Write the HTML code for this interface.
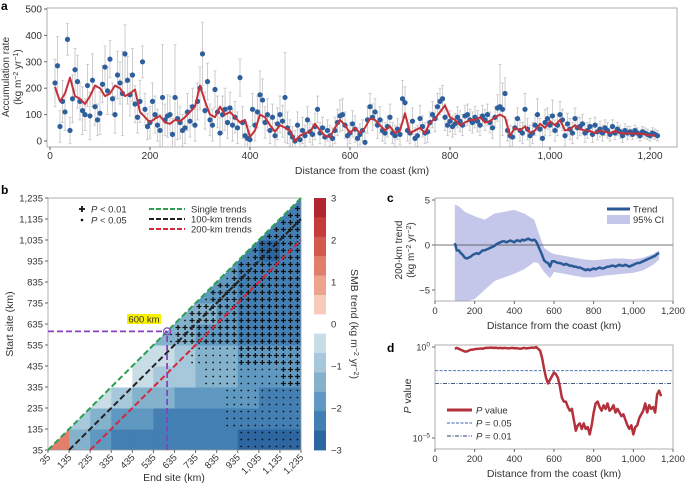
<!DOCTYPE html>
<html><head><meta charset="utf-8"><style>
html,body{margin:0;padding:0;background:#fff;}
svg{display:block;font-family:"Liberation Sans",sans-serif;}
text{fill:#333;}
</style></head><body>
<svg id="fig" width="685" height="487" viewBox="0 0 685 487" xmlns="http://www.w3.org/2000/svg">
<defs>
<clipPath id="clipA"><rect x="47" y="8" width="630" height="139"/></clipPath>
<clipPath id="clipB"><polygon points="48,450 301,450 301,198"/></clipPath>
<clipPath id="clipC"><rect x="435" y="198" width="238" height="103"/></clipPath>
<clipPath id="clipD"><rect x="435" y="345" width="238" height="104"/></clipPath>
</defs>
<g id="gA"></g>
<g id="gB"></g>
<g id="gC"></g>
<g id="gD"></g>
<text x="1" y="10" font-size="12" font-weight="bold" style="fill:#000">a</text>
<text x="1" y="194" font-size="12" font-weight="bold" style="fill:#000">b</text>
<text x="387" y="202" font-size="12" font-weight="bold" style="fill:#000">c</text>
<text x="387" y="352" font-size="12" font-weight="bold" style="fill:#000">d</text>
<text transform="translate(9,77) rotate(-90)" font-size="10" text-anchor="middle">Accumulation rate</text>
<text transform="translate(21,77) rotate(-90)" font-size="10" text-anchor="middle">(kg m<tspan dy="-3" font-size="7">−2</tspan><tspan dy="3"> yr</tspan><tspan dy="-3" font-size="7">−1</tspan><tspan dy="3">)</tspan></text>
<text x="362" y="174" font-size="10.5" text-anchor="middle">Distance from the coast (km)</text>
<text x="174" y="481" font-size="10.5" text-anchor="middle">End site (km)</text>
<text transform="translate(13,324) rotate(-90)" font-size="10.5" text-anchor="middle">Start site (km)</text>
<text transform="translate(351,324) rotate(90)" font-size="10.5" text-anchor="middle">SMB trend (kg m<tspan dy="-3" font-size="7">−2</tspan><tspan dy="3"> yr</tspan><tspan dy="-3" font-size="7">−2</tspan><tspan dy="3">)</tspan></text>
<text transform="translate(402,250) rotate(-90)" font-size="10" text-anchor="middle">200-km trend</text>
<text transform="translate(414,250) rotate(-90)" font-size="10" text-anchor="middle">(kg m<tspan dy="-3" font-size="7">−2</tspan><tspan dy="3"> yr</tspan><tspan dy="-3" font-size="7">−2</tspan><tspan dy="3">)</tspan></text>
<text x="554" y="329" font-size="10.5" text-anchor="middle">Distance from the coast (km)</text>
<text transform="translate(411,396) rotate(-90)" font-size="10.5" text-anchor="middle"><tspan font-style="italic">P</tspan> value</text>
<text x="554" y="477" font-size="10.5" text-anchor="middle">Distance from the coast (km)</text>
</svg>
<script>
// ---------- Panel a data ----------
const accStart = 10, accStep = 5;
const accValues = [220,285,55,150,110,385,40,160,270,225,
150,115,100,210,95,230,130,80,105,215,
280,190,310,160,100,250,220,180,330,230,
175,250,140,90,150,300,120,55,70,150,
100,60,40,165,80,95,100,25,165,85,
70,40,50,110,75,130,60,150,200,330,
115,225,80,60,195,110,30,100,120,70,
125,60,90,50,240,70,20,10,5,120,
60,110,175,155,70,100,40,90,20,65,
100,75,165,50,30,15,0,60,5,40,
20,80,35,25,55,120,30,50,15,40,
20,10,40,70,95,100,60,20,30,65,
45,10,25,40,-5,80,130,90,110,60,
80,40,30,55,90,30,20,45,25,160,
145,40,30,75,10,20,85,55,30,35,
70,100,85,130,150,160,90,60,75,55,
65,90,75,60,95,100,80,70,90,75,
60,95,80,100,70,50,90,125,130,120,
180,40,20,15,50,85,40,30,120,45,
20,30,60,100,45,10,70,85,60,95,
40,60,100,80,20,65,45,30,85,50,
55,65,30,40,55,25,60,35,45,30,
50,40,25,55,30,45,35,20,40,30,
35,25,40,30,20,35,30,25,20,30,25,20];
const accErrors = [90,110,60,80,70,60,50,90,80,100,
70,90,60,80,90,100,70,60,80,70,
80,90,70,60,70,90,80,160,110,90,
80,100,70,60,80,60,60,50,60,70,
70,60,60,200,60,80,70,60,200,80,
60,60,60,70,60,70,60,70,80,120,
70,70,60,60,70,60,60,70,80,60,
60,60,60,60,70,60,50,50,50,60,
60,60,90,80,60,60,50,50,50,60,
70,60,170,60,50,40,40,50,40,50,
40,50,40,40,50,50,40,40,40,40,
40,40,50,50,60,60,50,40,40,50,
50,40,40,40,40,50,50,50,50,50,
50,40,40,40,50,40,40,40,40,70,
60,40,40,50,40,40,50,40,40,40,
40,50,50,50,50,50,50,40,40,40,
40,40,40,40,40,40,40,40,40,40,
40,40,40,40,40,40,40,50,160,100,
60,40,40,40,40,40,40,40,60,40,
40,40,40,60,40,40,50,40,40,60,
40,40,50,40,40,40,40,40,40,40,
35,35,35,30,30,30,30,30,30,30,
30,30,25,25,25,25,25,25,25,25,
20,20,20,20,20,20,20,20,20,20,20,20];
const smoothStart = 10, smoothStep = 10;
const smoothValues = [205,150,180,240,170,160,140,170,210,200,170,180,210,200,170,180,195,110,90,70,85,95,70,65,80,75,90,110,130,210,150,100,90,130,100,110,90,70,80,15,40,100,90,60,35,60,50,40,0,20,30,35,65,40,20,15,50,80,60,30,50,30,50,85,80,60,40,55,30,40,105,30,40,50,30,70,85,110,135,90,80,60,70,80,80,90,70,75,90,100,90,20,50,40,55,30,40,65,50,75,60,80,40,45,60,45,40,38,30,40,35,30,38,30,28,30,28,28,25,22,20];
const aXTicks = [0,200,400,600,800,1000,1200];
const aXTickLabels = ["0","200","400","600","800","1,000","1,200"];
const aYTicks = [0,100,200,300,400,500];

// ---------- Panel b data ----------
const bTicks = [35,135,235,335,435,535,635,735,835,935,1035,1135,1235];
const bTickLabels = ["35","135","235","335","435","535","635","735","835","935","1,035","1,135","1,235"];
const trendMatrix = [
[1.2,-1.5,-2.0,-2.2,-2.3,-2.5,-2.5,-2.4,-2.5,-2.6,-2.6,-2.6],
[null,-0.8,-1.5,-1.8,-2.0,-2.1,-2.2,-2.2,-2.3,-2.3,-2.4,-2.4],
[null,null,-0.3,-0.8,-1.2,-1.6,-1.7,-1.8,-1.9,-2.0,-2.1,-2.2],
[null,null,null,-0.2,-0.5,-0.8,-1.0,-1.2,-1.5,-1.7,-1.9,-2.0],
[null,null,null,null,-0.3,-0.6,-0.9,-1.2,-1.5,-1.7,-1.9,-2.0],
[null,null,null,null,null,-1.3,-1.5,-1.9,-2.0,-2.1,-2.2,-2.2],
[null,null,null,null,null,null,-1.5,-1.6,-2.0,-2.1,-2.2,-2.3],
[null,null,null,null,null,null,null,-1.8,-1.9,-2.2,-2.3,-2.4],
[null,null,null,null,null,null,null,null,-2.0,-2.3,-2.5,-2.5],
[null,null,null,null,null,null,null,null,null,-2.2,-2.6,-2.5],
[null,null,null,null,null,null,null,null,null,null,-2.4,-2.5],
[null,null,null,null,null,null,null,null,null,null,null,-2.3]];
const plusFromEnd = [null,null,null,1150,930,640,700,790,900,990,1080,1180];
const dotFromEnd = [950,880,860,760,700,600,680,760,860,960,1050,1150];
const cbarTicks = [3,2,1,0,-1,-2,-3];
const cbarColors = ["#b2272f","#c43c3c","#d45a50","#e27f6c","#eea38f","#f6cbbd","#ffffff","#c9dde6","#a6c8da","#84b2cd","#5f98c1","#437fb2","#2e66a1"];

// ---------- Panel c data ----------
const trendStart = 100, trendStep = 10;
const trendValues = [0.2,-0.6,-0.6,-0.9,-1.1,-1.4,-1.5,-1.4,-1.3,-1.1,-1.0,-0.9,-1.0,-0.8,-0.6,-0.6,-0.5,-0.4,-0.3,-0.2,-0.1,0.1,0.2,0.3,0.4,0.4,0.3,0.4,0.5,0.4,0.3,0.5,0.5,0.4,0.6,0.5,0.6,0.7,0.6,0.5,0.6,0.4,-0.1,-0.6,-1.1,-1.7,-1.9,-2.0,-2.4,-1.8,-1.8,-1.9,-2.0,-2.0,-2.1,-2.2,-2.1,-2.2,-2.3,-2.3,-2.4,-2.4,-2.5,-2.5,-2.6,-2.7,-2.8,-2.7,-2.8,-2.7,-2.6,-2.7,-2.6,-2.5,-2.6,-2.6,-2.5,-2.4,-2.4,-2.3,-2.3,-2.4,-2.3,-2.2,-2.3,-2.3,-2.2,-2.3,-2.4,-2.3,-2.2,-2.1,-2.0,-2.0,-1.9,-1.8,-1.7,-1.6,-1.5,-1.4,-1.3,-1.2,-1.0,-0.9];
const ciDist = [100,120,150,200,250,300,350,400,450,500,520,550,580,600,650,700,750,800,850,900,950,1000,1050,1100,1130];
const ciUpper = [4.5,4.3,3.7,3.2,2.8,3.5,3.7,3.9,3.5,2.8,1.5,-0.3,-0.8,-1.0,-1.2,-1.4,-1.6,-1.7,-1.6,-1.5,-1.5,-1.6,-1.4,-1.0,-0.6];
const ciLower = [-6.3,-6.3,-6.3,-6.0,-5.0,-4.0,-3.6,-3.2,-2.7,-1.9,-2.0,-3.0,-3.7,-3.0,-3.2,-3.4,-3.6,-3.6,-3.4,-3.3,-3.2,-3.1,-2.8,-2.2,-1.6];
const cYTicks = [5,0,-5];
const cdXTicks = [0,200,400,600,800,1000,1200];
const cdXTickLabels = ["0","200","400","600","800","1,000","1,200"];

// ---------- Panel d data ----------
const pStart = 100, pStep = 10;
const pLog10 = [-0.1,-0.05,-0.1,-0.15,-0.2,-0.25,-0.25,-0.2,-0.15,-0.15,-0.12,-0.1,-0.1,-0.08,-0.1,-0.06,-0.05,-0.05,-0.03,-0.05,-0.04,-0.05,-0.06,-0.05,-0.07,-0.05,-0.06,-0.08,-0.06,-0.05,-0.07,-0.06,-0.08,-0.1,-0.07,-0.05,-0.08,-0.06,-0.05,-0.03,-0.05,0,-0.1,-0.2,-0.6,-1.2,-1.7,-2.0,-1.8,-1.6,-1.4,-1.5,-1.7,-2.2,-2.8,-3.0,-3.0,-3.3,-3.5,-3.4,-4.0,-4.6,-4.3,-4.2,-4.5,-4.2,-4.5,-4.4,-4.8,-4.3,-3.6,-3.1,-3.0,-3.3,-3.5,-3.2,-3.4,-3.1,-3.5,-3.4,-3.2,-3.6,-3.4,-3.6,-3.8,-3.7,-4.0,-4.3,-4.5,-4.3,-4.8,-4.4,-4.3,-3.9,-3.7,-3.5,-3.1,-3.6,-3.2,-3.4,-3.3,-3.6,-2.6,-2.4,-2.7];
const pThresholds = [0.05,0.01];

const NS = "http://www.w3.org/2000/svg";
function mk(parent, tag, attrs, txt){
  const el = document.createElementNS(NS, tag);
  for (const k in attrs) el.setAttribute(k, attrs[k]);
  if (txt !== undefined) el.textContent = txt;
  parent.appendChild(el);
  return el;
}
const gA = document.getElementById('gA'), gB = document.getElementById('gB'),
      gC = document.getElementById('gC'), gD = document.getElementById('gD');

// ===== Panel a =====
const ax = d => 50 + d * 0.5;
const ay = v => 141 - v * 0.264;
let fr = mk(gA,'rect',{x:47,y:8,width:630,height:139,fill:'none',stroke:'#999','stroke-width':0.8});


aYTicks.forEach(t=>{
  const tk = mk(gA,'line',{x1:44,x2:47,y1:ay(t),y2:ay(t),stroke:'#666'});
  
  
  const lb = mk(gA,'text',{x:42,y:ay(t)+3.5,'font-size':10,'text-anchor':'end'},String(t));
  
  
});
aXTicks.forEach((t,i)=>{
  const tk = mk(gA,'line',{x1:ax(t),x2:ax(t),y1:147,y2:150,stroke:'#666'});
  
  
  const lb = mk(gA,'text',{x:ax(t),y:159,'font-size':10,'text-anchor':'middle'},aXTickLabels[i]);
  
  
});
const aPlot = mk(gA,'g',{'clip-path':'url(#clipA)'});


accValues.forEach((v,i)=>{
  const d = accStart + i*accStep, e = accErrors[i];
  const eb = mk(aPlot,'path',{d:`M${ax(d)},${ay(v-e)}V${ay(v+e)}M${ax(d)-1.5},${ay(v+e)}h3M${ax(d)-1.5},${ay(v-e)}h3`,stroke:'#c9c9c9','stroke-width':0.9,fill:'none'});
  
  
});
accValues.forEach((v,i)=>{
  const d = accStart + i*accStep;
  const c = mk(aPlot,'circle',{cx:ax(d),cy:ay(v),r:2.6,fill:'#2d5f9e'});
  
  
});
const sm = mk(aPlot,'polyline',{points:smoothValues.map((v,i)=>`${ax(smoothStart+i*smoothStep)},${ay(v)}`).join(' '),fill:'none',stroke:'#c3323b','stroke-width':2,'stroke-linejoin':'round'});



// ===== Panel b =====
const bx = e => 48 + (e-35)*253/1200;
const by = s => 450 - (s-35)*252/1200;
function colorOf(v){
  const w = 6/13;
  let idx = Math.floor((3 - v)/w);
  if (idx < 0) idx = 0; if (idx > 12) idx = 12;
  return cbarColors[idx];
}
const hm = mk(gB,'g',{'clip-path':'url(#clipB)'});


trendMatrix.forEach((row,i)=>{
  row.forEach((v,j)=>{
    if (v === null) return;
    const s0 = 35+100*i, e0 = 35+100*j;
    const c = mk(hm,'rect',{x:bx(e0),y:by(s0+100),width:bx(e0+100)-bx(e0)+0.5,height:by(s0)-by(s0+100)+0.5,fill:colorOf(v)});
    
    
  });
});
const mg = mk(gB,'g',{});


for (let s = 35 + 100/6; s < 1235; s += 100/3){
  const r = Math.min(11, Math.floor((s-35)/100));
  for (let e = 35 + 100/6; e < 1235; e += 100/3){
    if (e < s + 30) continue;
    if (plusFromEnd[r] !== null && e >= plusFromEnd[r]){
      const p = mk(mg,'path',{d:`M${bx(e)-2.5},${by(s)}h5M${bx(e)},${by(s)-2.5}v5`,stroke:'#111','stroke-width':1.3});
      
      
    } else if (e >= dotFromEnd[r]){
      const p = mk(mg,'circle',{cx:bx(e),cy:by(s),r:0.9,fill:'#111'});
      
      
    }
  }
}
let fb = mk(gB,'path',{d:'M48,198V450H301V198Z',fill:'none',stroke:'#999','stroke-width':0.8});


const diagLines = [[35,35,1235,1235,'#2e9e52'],[135,35,1235,1135,'#222'],[235,35,1235,1035,'#d6283c']];
const diagNames = ['b-single-trends-line','b-100km-trends-line','b-200km-trends-line'];
diagLines.forEach((L,i)=>{
  const l = mk(gB,'line',{x1:bx(L[0]),y1:by(L[1]),x2:bx(L[2]),y2:by(L[3]),stroke:L[4],'stroke-width':2,'stroke-dasharray':'6,3'});
  
  
});
let ph = mk(gB,'line',{x1:bx(35),y1:by(600),x2:bx(600),y2:by(600),stroke:'#8a3fc0','stroke-width':1.8,'stroke-dasharray':'6,3'});


let pv = mk(gB,'line',{x1:bx(600),y1:by(35),x2:bx(600),y2:by(600),stroke:'#8a3fc0','stroke-width':1.8,'stroke-dasharray':'6,3'});


let pc = mk(gB,'circle',{cx:bx(600),cy:by(600),r:3.5,fill:'none',stroke:'#8a3fc0','stroke-width':1.2});


let yr = mk(gB,'rect',{x:127,y:314,width:34,height:10,fill:'#f7f000'});


let yt = mk(gB,'text',{x:144,y:322.5,'font-size':9.5,'text-anchor':'middle'},'600 km');


bTicks.forEach((t,i)=>{
  const tk = mk(gB,'line',{x1:45,x2:48,y1:by(t),y2:by(t),stroke:'#666'});
  
  
  const lb = mk(gB,'text',{x:43,y:by(t)+3.5,'font-size':9.5,'text-anchor':'end'},bTickLabels[i]);
  
  
  const tx = mk(gB,'line',{x1:bx(t),x2:bx(t),y1:450,y2:453,stroke:'#666'});
  
  
  const lx = mk(gB,'text',{transform:`translate(${bx(t)+3},${458}) rotate(-45)`,'font-size':9.5,'text-anchor':'end'},bTickLabels[i]);
  
  
});
// legend b
const lgB = mk(gB,'g',{});


let lp = mk(lgB,'path',{d:'M79,209h6M82,206v6',stroke:'#111','stroke-width':1.8});


let lt = mk(lgB,'text',{x:91,y:212.5,'font-size':9.5},'');
lt.innerHTML = '<tspan font-style="italic">P</tspan> &lt; 0.01';


let ld = mk(lgB,'circle',{cx:82,cy:220,r:1.3,fill:'#111'});


let lt2 = mk(lgB,'text',{x:91,y:223.5,'font-size':9.5},'');
lt2.innerHTML = '<tspan font-style="italic">P</tspan> &lt; 0.05';


const legLines = [['#2e9e52','Single trends',212],['#222','100-km trends',222],['#d6283c','200-km trends',232]];
legLines.forEach((L,i)=>{
  const l = mk(lgB,'line',{x1:149,x2:185,y1:L[2]-3,y2:L[2]-3,stroke:L[0],'stroke-width':2,'stroke-dasharray':'5,2'});
  
  
  const t = mk(lgB,'text',{x:191,y:L[2]+0.5,'font-size':9.5},L[1]);
  
  
});
// colorbar
const cb = mk(gB,'g',{});


const cbTop = 198, cbH = 252, cbX = 314, cbW = 12;
cbarColors.forEach((c,i)=>{
  const r = mk(cb,'rect',{x:cbX,y:cbTop+i*cbH/13,width:cbW,height:cbH/13+0.4,fill:c});
  
  
});
cbarTicks.forEach(t=>{
  const y = cbTop + (3-t)/6*cbH;
  const lb = mk(cb,'text',{x:331,y:y+3.5,'font-size':9.5},t<0?('−'+(-t)):String(t));
  
  
});

// ===== Panel c =====
const cx = d => 435 + d*238/1200;
const cy = v => 245 - v*9;
const cPlot = mk(gC,'g',{'clip-path':'url(#clipC)'});


let up = ciDist.map((d,i)=>`${cx(d)},${cy(ciUpper[i])}`);
let lo = ciDist.map((d,i)=>`${cx(d)},${cy(ciLower[i])}`).reverse();
let ci = mk(cPlot,'polygon',{points:up.concat(lo).join(' '),fill:'#c4c6ea'});


let zl = mk(cPlot,'line',{x1:435,x2:673,y1:cy(0),y2:cy(0),stroke:'#444','stroke-width':0.8});


let tl = mk(cPlot,'polyline',{points:trendValues.map((v,i)=>`${cx(trendStart+i*trendStep)},${cy(v)}`).join(' '),fill:'none',stroke:'#2a5a96','stroke-width':2.5,'stroke-linejoin':'round'});


let fc = mk(gC,'rect',{x:435,y:198,width:238,height:103,fill:'none',stroke:'#999','stroke-width':0.8});


cYTicks.forEach(t=>{
  const tk = mk(gC,'line',{x1:432,x2:435,y1:cy(t),y2:cy(t),stroke:'#666'});
  
  
  const lb = mk(gC,'text',{x:430,y:cy(t)+3.5,'font-size':9.5,'text-anchor':'end'},t<0?('−'+(-t)):String(t));
  
  
});
cdXTicks.forEach((t,i)=>{
  const tk = mk(gC,'line',{x1:cx(t),x2:cx(t),y1:301,y2:304,stroke:'#666'});
  
  
  const lb = mk(gC,'text',{x:cx(t),y:314,'font-size':9.5,'text-anchor':'middle'},cdXTickLabels[i]);
  
  
});
const lgC = mk(gC,'g',{});


let l1 = mk(lgC,'line',{x1:607,x2:630,y1:209,y2:209,stroke:'#2a5a96','stroke-width':3});


let l1t = mk(lgC,'text',{x:633,y:212.5,'font-size':9.5},'Trend');


let l2 = mk(lgC,'rect',{x:607,y:215,width:23,height:9,fill:'#c4c6ea'});


let l2t = mk(lgC,'text',{x:633,y:223,'font-size':9.5},'95% CI');



// ===== Panel d =====
const dy = l => 347 - l*18.2;
const dPlot = mk(gD,'g',{'clip-path':'url(#clipD)'});


pThresholds.forEach((p,i)=>{
  const l = mk(dPlot,'line',{x1:435,x2:673,y1:dy(Math.log10(p)),y2:dy(Math.log10(p)),stroke:i===0?'#3b5fae':'#2c3f6e','stroke-width':0.9,'stroke-dasharray':i===0?'3,1.5':'4,1.5,1,1.5'});
  
  
});
let pl = mk(dPlot,'polyline',{points:pLog10.map((v,i)=>`${cx(pStart+i*pStep)},${dy(v)}`).join(' '),fill:'none',stroke:'#b3313a','stroke-width':2.5,'stroke-linejoin':'round'});


let fd = mk(gD,'rect',{x:435,y:345,width:238,height:104,fill:'none',stroke:'#999','stroke-width':0.8});


[0,-5].forEach(l=>{
  const tk = mk(gD,'line',{x1:432,x2:435,y1:dy(l),y2:dy(l),stroke:'#666'});
  
  
  const lb = mk(gD,'text',{x:430,y:dy(l)+3.5,'font-size':9,'text-anchor':'end'},'');
  lb.innerHTML = '10<tspan dy="-4" font-size="6.5">'+(l===0?'0':'−5')+'</tspan>';
  
  
});
cdXTicks.forEach((t,i)=>{
  const tk = mk(gD,'line',{x1:cx(t),x2:cx(t),y1:449,y2:452,stroke:'#666'});
  
  
  const lb = mk(gD,'text',{x:cx(t),y:462,'font-size':9.5,'text-anchor':'middle'},cdXTickLabels[i]);
  
  
});
const lgD = mk(gD,'g',{});


let d1 = mk(lgD,'line',{x1:447,x2:472,y1:410,y2:410,stroke:'#b3313a','stroke-width':3});


let d1t = mk(lgD,'text',{x:476,y:413.5,'font-size':9.5},'');
d1t.innerHTML = '<tspan font-style="italic">P</tspan> value';


let d2 = mk(lgD,'line',{x1:447,x2:472,y1:423,y2:423,stroke:'#3b5fae','stroke-width':0.9,'stroke-dasharray':'3,1.5'});


let d2t = mk(lgD,'text',{x:476,y:426.5,'font-size':9.5},'');
d2t.innerHTML = '<tspan font-style="italic">P</tspan> = 0.05';


let d3 = mk(lgD,'line',{x1:447,x2:472,y1:436,y2:436,stroke:'#2c3f6e','stroke-width':0.9,'stroke-dasharray':'4,1.5,1,1.5'});


let d3t = mk(lgD,'text',{x:476,y:439.5,'font-size':9.5},'');
d3t.innerHTML = '<tspan font-style="italic">P</tspan> = 0.01';


</script>
</body></html>
